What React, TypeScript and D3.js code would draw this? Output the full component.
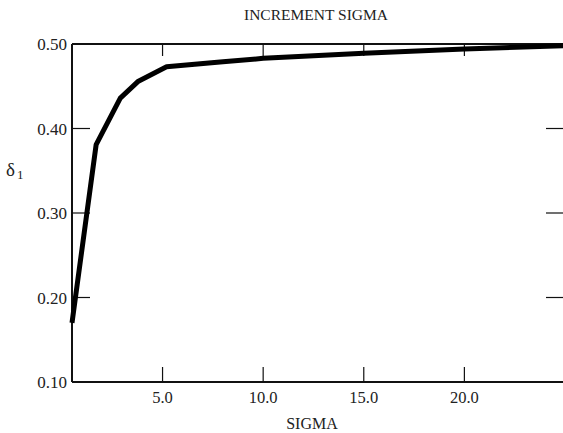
import React, { useEffect, useRef } from 'react';
import * as d3 from 'd3';

// curve
const sigma = [0.5, 1.7, 2.9, 3.8, 5.2, 8.0, 10.0, 15.0, 20.0, 25.0];
const delta = [0.17, 0.381, 0.436, 0.456, 0.473, 0.479, 0.483, 0.489, 0.494, 0.498];
const xTicks = [5, 10, 15, 20];
const yTicks = [0.1, 0.2, 0.3, 0.4, 0.5];

const App = () => {
    const ref = useRef<SVGSVGElement>(null);

    useEffect(() => {
        const width = 563;
        const height = 433;
        const svg = d3.select(ref.current);
        svg.selectAll('*').remove();
        svg.attr('width', width).attr('height', height);

        const x = d3.scaleLinear().domain([0.5, 25]).range([72, 565]);
        const y = d3.scaleLinear().domain([0.1, 0.5]).range([382, 44]);
        const font = '"Liberation Serif", "DejaVu Serif", serif';

        svg.append('rect').attr('width', width).attr('height', height).attr('fill', '#fff');

        // frame: left, bottom, top (right edge is cut off)
        const frame = svg.append('g').attr('stroke', '#111').attr('stroke-width', 2).attr('fill', 'none');
        frame.append('line').attr('x1', x(0.5)).attr('x2', x(0.5)).attr('y1', y(0.5)).attr('y2', y(0.1));
        frame.append('line').attr('x1', x(0.5)).attr('x2', width).attr('y1', y(0.1)).attr('y2', y(0.1));
        frame.append('line').attr('x1', x(0.5)).attr('x2', width).attr('y1', y(0.5)).attr('y2', y(0.5));

        const ticks = svg.append('g').attr('stroke', '#111').attr('stroke-width', 1.2);
        xTicks.forEach(t => {
            ticks.append('line').attr('x1', x(t)).attr('x2', x(t)).attr('y1', y(0.1)).attr('y2', y(0.1) - 15);
            ticks.append('line').attr('x1', x(t)).attr('x2', x(t)).attr('y1', y(0.5)).attr('y2', y(0.5) + 12);
        });
        yTicks.slice(1, 4).forEach(t => {
            ticks.append('line').attr('x1', x(0.5)).attr('x2', x(0.5) + 18).attr('y1', y(t)).attr('y2', y(t));
            ticks.append('line').attr('x1', width - 17).attr('x2', width).attr('y1', y(t)).attr('y2', y(t));
        });

        // tick labels
        svg.append('g').selectAll('text').data(yTicks).enter().append('text')
            .attr('x', 67).attr('y', d => y(d) + 6)
            .attr('text-anchor', 'end')
            .attr('font-family', font).attr('font-size', 17)
            .attr('fill', '#222')
            .text(d => d.toFixed(2));

        svg.append('g').selectAll('text').data(xTicks).enter().append('text')
            .attr('x', d => x(d)).attr('y', 403)
            .attr('text-anchor', 'middle')
            .attr('font-family', font).attr('font-size', 16.5)
            .attr('fill', '#222')
            .text(d => d.toFixed(1));

        // the curve
        const line = d3.line<number>()
            .x((d, i) => x(sigma[i]))
            .y(d => y(d));
        svg.append('path')
            .datum(delta)
            .attr('d', line)
            .attr('fill', 'none')
            .attr('stroke', '#000')
            .attr('stroke-width', 5)
            .attr('stroke-linejoin', 'round');

        // titles
        svg.append('text')
            .attr('x', 316).attr('y', 20)
            .attr('text-anchor', 'middle')
            .attr('font-family', font).attr('font-size', 15.5)
            .attr('fill', '#222')
            .text('INCREMENT SIGMA');

        svg.append('text')
            .attr('x', 312).attr('y', 429)
            .attr('text-anchor', 'middle')
            .attr('font-family', font).attr('font-size', 16)
            .attr('fill', '#222')
            .text('SIGMA');

        const yl = svg.append('text')
            .attr('x', 6).attr('y', 176)
            .attr('font-family', font).attr('font-size', 19)
            .attr('fill', '#222');
        yl.append('tspan').text('δ');
        yl.append('tspan').attr('font-size', 13).attr('dx', 2).attr('dy', 3).text('1');
    }, []);

    return (
        <svg ref={ref} style={{ position: 'absolute', left: 0, top: 0 }}></svg>
    );
};

export default App;
